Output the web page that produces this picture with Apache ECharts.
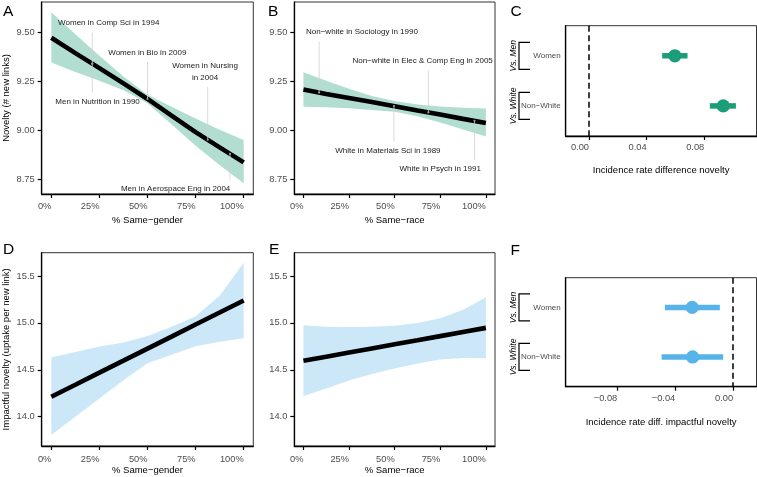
<!DOCTYPE html>
<html><head><meta charset="utf-8">
<script src="https://cdn.jsdelivr.net/npm/echarts@6/dist/echarts.min.js"></script>
<style>html,body{margin:0;padding:0;background:#fff}#c{width:757px;height:477px}</style>
</head><body><div id="c"></div>
<script>
// ---------- DATA ----------
const xs = [0, 0.125, 0.25, 0.375, 0.5, 0.625, 0.75, 0.875, 1];

// Panel A: novelty vs % same-gender
const fitA = [9.474, 9.395, 9.318, 9.240, 9.160, 9.075, 8.990, 8.912, 8.835];
const upA  = [9.604, 9.492, 9.382, 9.275, 9.182, 9.120, 9.060, 9.002, 8.950];
const loA  = [9.347, 9.298, 9.254, 9.205, 9.138, 9.030, 8.920, 8.822, 8.728];
// Panel B: novelty vs % same-race
const fitB = [9.208, 9.186, 9.165, 9.144, 9.123, 9.101, 9.080, 9.058, 9.037];
const upB  = [9.297, 9.253, 9.212, 9.175, 9.150, 9.132, 9.122, 9.115, 9.111];
const loB  = [9.120, 9.117, 9.112, 9.104, 9.094, 9.072, 9.040, 9.004, 8.968];
// Panel D: impactful novelty vs % same-gender
const fitD = [14.213, 14.341, 14.470, 14.598, 14.726, 14.854, 14.983, 15.111, 15.239];
const upD  = [14.633, 14.690, 14.748, 14.790, 14.860, 14.960, 15.070, 15.290, 15.642];
const loD  = [13.805, 14.000, 14.195, 14.390, 14.570, 14.660, 14.750, 14.800, 14.836];
// Panel E: impactful novelty vs % same-race
const fitE = [14.596, 14.640, 14.684, 14.728, 14.772, 14.815, 14.859, 14.903, 14.947];
const upE  = [14.975, 14.960, 14.955, 14.958, 14.970, 14.998, 15.050, 15.140, 15.272];
const loE  = [14.222, 14.300, 14.386, 14.455, 14.515, 14.568, 14.610, 14.625, 14.622];

// Annotations (label anchor and pointed value, in data units)
const annAText = ['Women in Comp Sci in 1994', 'Women in Bio in 2009', 'Women in Nursing\nin 2004', 'Men in Nutrition in 1990', 'Men in Aerospace Eng in 2004'];
const annALabelX = [0.2985, 0.499, 0.799, 0.2404, 0.646];
const annALabelY = [9.548, 9.3975, 9.299, 9.146, 8.699];
const annAPointX = [0.213, 0.5, 0.813, 0.213, 0.929];
const annAPointY = [9.341, 9.160, 8.951, 9.341, 8.879];

const annBText = ['Non\u2212white in Sociology in 1990', 'Non\u2212white in Elec & Comp Eng in 2005', 'White in Materials Sci in 1989', 'White in Psych in 1991'];
const annBLabelX = [0.3207, 0.6535, 0.4627, 0.7495];
const annBLabelY = [9.502, 9.355, 8.895, 8.80];
const annBPointX = [0.086, 0.685, 0.496, 0.9375];
const annBPointY = [9.193, 9.091, 9.124, 9.048];

// Panels C and F: incidence rate differences
const groups = ['Women', 'Non\u2212White'];
const groupHeads = ['Vs. Men', 'Vs. White'];
const estC = [0.0596, 0.0932];
const loC  = [0.0508, 0.0839];
const hiC  = [0.0684, 0.1020];
const estF = [-0.0283, -0.0280];
const loF  = [-0.0471, -0.0494];
const hiF  = [-0.0092, -0.0069];

// Tick values
const pctTicks = [0, 0.25, 0.5, 0.75, 1];
const novTicks = [8.75, 9.0, 9.25, 9.5];
const impTicks = [14.0, 14.5, 15.0, 15.5];
const ticksC = [0, 0.04, 0.08];
const ticksF = [-0.08, -0.04, 0];

// ---------- STYLE ----------
const FONT = '"Liberation Sans", Arial, Helvetica, sans-serif';
const GREEN = '#1B9E77', GREEN_BAND = 'rgba(27,158,119,0.34)';
const BLUE = '#56B4E9', BLUE_BAND = 'rgba(86,180,233,0.30)';
const GRAY = '#4d4d4d';

const chart = echarts.init(document.getElementById('c'), null, {renderer: 'canvas'});

const gridBase = {show: true, borderColor: '#333', borderWidth: 1, backgroundColor: 'transparent', containLabel: false, outerBoundsMode: 'none'};
const grids = [
  {left: 41.7, top: 2, width: 211.6, height: 192},
  {left: 294.3, top: 2, width: 200.7, height: 192},
  {left: 565.7, top: 25.7, width: 190.8, height: 110.3},
  {left: 41.7, top: 252.7, width: 211.6, height: 193.3},
  {left: 294.3, top: 252.7, width: 200.7, height: 193.3},
  {left: 565.7, top: 277.7, width: 190.8, height: 109}
].map(g => Object.assign({}, gridBase, g));

const pctFmt = v => Math.round(v * 100) + '%';
const signFmt = v => (v < -1e-9 ? '\u2212' + Math.abs(v).toFixed(2) : Math.abs(v).toFixed(2));

function xAx(gi, min, max, ticks, fmt, name, gap, margin) {
  return {
    type: 'value', gridIndex: gi, min, max,
    axisLine: {show: true, onZero: false, lineStyle: {color: '#000', width: 1.3}},
    axisTick: {show: true, length: 4, customValues: ticks, lineStyle: {color: '#000', width: 1.2}},
    axisLabel: {customValues: ticks, formatter: fmt, color: GRAY, fontSize: 9.3, fontFamily: FONT, margin: margin, align: 'right'},
    splitLine: {show: false},
    name, nameLocation: 'middle', nameGap: gap,
    nameTextStyle: {color: '#000', fontSize: 9.5, fontFamily: FONT}
  };
}
function yAx(gi, min, max, ticks, fmt, name) {
  return {
    type: 'value', gridIndex: gi, min, max,
    axisLine: {show: true, onZero: false, lineStyle: {color: '#000', width: 1.3}},
    axisTick: {show: true, length: 4, customValues: ticks, lineStyle: {color: '#000', width: 1.2}},
    axisLabel: {customValues: ticks, formatter: fmt, color: GRAY, fontSize: 9.3, fontFamily: FONT, margin: 7},
    splitLine: {show: false},
    name: name || '', nameLocation: 'middle', nameGap: 30,
    nameTextStyle: {color: '#000', fontSize: 9.5, fontFamily: FONT}
  };
}
function yCat(gi) {
  return {
    type: 'value', gridIndex: gi, min: 0.4, max: 2.6, inverse: true,
    axisLine: {show: true, onZero: false, lineStyle: {color: '#000', width: 1.3}},
    axisTick: {show: false},
    axisLabel: {customValues: [1, 2], formatter: v => groups[Math.round(v) - 1], color: GRAY, fontSize: 8, fontFamily: FONT, margin: 5},
    splitLine: {show: false}
  };
}

const xAxes = [
  xAx(0, -0.05, 1.05, pctTicks, pctFmt, '% Same\u2212gender', 21.5, 8),
  xAx(1, -0.05, 1.05, pctTicks, pctFmt, '% Same\u2212race', 21.5, 8),
  xAx(2, -0.0162, 0.1163, ticksC, signFmt, 'Incidence rate difference novelty', 29, 7),
  xAx(3, -0.05, 1.05, pctTicks, pctFmt, '% Same\u2212gender', 19.5, 9),
  xAx(4, -0.05, 1.05, pctTicks, pctFmt, '% Same\u2212race', 19.5, 9),
  xAx(5, -0.1156, 0.0161, ticksF, signFmt, 'Incidence rate diff. impactful novelty', 30.5, 7)
];
const f2 = v => v.toFixed(2), f1 = v => v.toFixed(1);
const yAxes = [
  yAx(0, 8.673, 9.657, novTicks, f2, 'Novelty (# new links)'),
  yAx(1, 8.673, 9.657, novTicks, f2),
  yCat(2),
  yAx(3, 13.688, 15.748, impTicks, f1, 'Impactful novelty (uptake per new link)'),
  yAx(4, 13.688, 15.748, impTicks, f1),
  yCat(5)
];

function ribbon(i, lo, up, color) {
  return {
    type: 'custom', xAxisIndex: i, yAxisIndex: i, silent: true, z: 1,
    data: xs.map((x, k) => [x, lo[k], up[k]]),
    encode: {x: 0, y: [1, 2]},
    renderItem: (params, api) => {
      if (params.dataIndex !== 0) return null;
      const pts = [];
      for (let k = 0; k < xs.length; k++) pts.push(api.coord([xs[k], up[k]]));
      for (let k = xs.length - 1; k >= 0; k--) pts.push(api.coord([xs[k], lo[k]]));
      return {type: 'polygon', shape: {points: pts}, style: {fill: color, stroke: null}};
    }
  };
}
function fitLine(i, fit) {
  return {
    type: 'line', xAxisIndex: i, yAxisIndex: i, silent: true, z: 3,
    data: xs.map((x, k) => [x, fit[k]]),
    showSymbol: false, symbol: 'none',
    lineStyle: {color: '#000', width: 4.6, cap: 'butt'}
  };
}
function annotations(i, texts, lx, ly, px, py) {
  return {
    type: 'custom', xAxisIndex: i, yAxisIndex: i, silent: true, z: 5, clip: false,
    data: texts.map((t, k) => [lx[k], ly[k], px[k], py[k]]),
    encode: {x: 0, y: 1},
    renderItem: (params, api) => {
      const k = params.dataIndex;
      const L = api.coord([api.value(0), api.value(1)]);
      const P = api.coord([api.value(2), api.value(3)]);
      const nLines = texts[k].split('\n').length;
      const half = nLines * 5.8 + 3.5;
      const y0 = L[1] < P[1] ? L[1] + half : L[1] - half;
      return {
        type: 'group', children: [
          {type: 'line', shape: {x1: P[0], y1: y0, x2: P[0], y2: P[1]}, style: {stroke: '#d0d0d0', lineWidth: 0.8}},
          {type: 'circle', shape: {cx: P[0], cy: P[1], r: 1.1}, style: {fill: '#9a9a9a'}},
          {type: 'text', x: L[0], y: L[1], style: {text: texts[k], align: 'center', verticalAlign: 'middle', fontSize: 8, fontFamily: FONT, fill: '#1a1a1a', lineHeight: 11.6}}
        ]
      };
    }
  };
}
function errorBars(i, est, lo, hi, color) {
  return {
    type: 'custom', xAxisIndex: i, yAxisIndex: i, silent: true, z: 4,
    data: est.map((e, k) => [e, k + 1, lo[k], hi[k]]),
    encode: {x: [0, 2, 3], y: 1},
    renderItem: (params, api) => {
      const y = api.value(1);
      const a = api.coord([api.value(2), y]);
      const b = api.coord([api.value(3), y]);
      const c = api.coord([api.value(0), y]);
      return {
        type: 'group', children: [
          {type: 'line', shape: {x1: a[0], y1: a[1], x2: b[0], y2: b[1]}, style: {stroke: color, lineWidth: 5.5}},
          {type: 'circle', shape: {cx: c[0], cy: c[1], r: 6.6}, style: {fill: color}}
        ]
      };
    },
    markLine: {
      silent: true, symbol: ['none', 'none'], animation: false,
      label: {show: false},
      lineStyle: {color: '#000', type: [6, 3.5], width: 1.5},
      data: [{xAxis: 0}]
    }
  };
}
function brackets(i) {
  return {
    type: 'custom', xAxisIndex: i, yAxisIndex: i, silent: true, z: 5, clip: false,
    data: groupHeads.map((g, k) => [0, k + 1]),
    encode: {x: 0, y: 1},
    renderItem: (params, api) => {
      const k = params.dataIndex;
      const y = api.coord([0, api.value(1)])[1];
      const gl = params.coordSys.x;
      const xv = gl - 46.7, xa = gl - 35.7, h = 13.5;
      return {
        type: 'group', children: [
          {type: 'polyline', shape: {points: [[xa, y - h], [xv, y - h], [xv, y + h], [xa, y + h]]}, style: {stroke: '#000', lineWidth: 1.2, fill: null}},
          {type: 'text', x: gl - 51.8, y: y, rotation: Math.PI / 2,
           style: {text: groupHeads[k], align: 'center', verticalAlign: 'middle', fontSize: 8.6, fontStyle: 'italic', fontFamily: FONT, fill: '#000'}}
        ]
      };
    }
  };
}

const series = [
  ribbon(0, loA, upA, GREEN_BAND), fitLine(0, fitA), annotations(0, annAText, annALabelX, annALabelY, annAPointX, annAPointY),
  ribbon(1, loB, upB, GREEN_BAND), fitLine(1, fitB), annotations(1, annBText, annBLabelX, annBLabelY, annBPointX, annBPointY),
  errorBars(2, estC, loC, hiC, GREEN), brackets(2),
  ribbon(3, loD, upD, BLUE_BAND), fitLine(3, fitD),
  ribbon(4, loE, upE, BLUE_BAND), fitLine(4, fitE),
  errorBars(5, estF, loF, hiF, BLUE), brackets(5)
];

const letter = (t, x, y) => ({type: 'text', x, y, style: {text: t, fontSize: 15.5, fontFamily: FONT, fill: '#000', align: 'left', verticalAlign: 'top'}});

chart.setOption({
  animation: false,
  backgroundColor: '#fff',
  textStyle: {fontFamily: FONT},
  grid: grids,
  xAxis: xAxes,
  yAxis: yAxes,
  series,
  graphic: [
    letter('A', 3, 4), letter('B', 268, 3.5), letter('C', 510.5, 4),
    letter('D', 3, 242), letter('E', 269, 242), letter('F', 510.5, 243)
  ]
});
</script></body></html>
